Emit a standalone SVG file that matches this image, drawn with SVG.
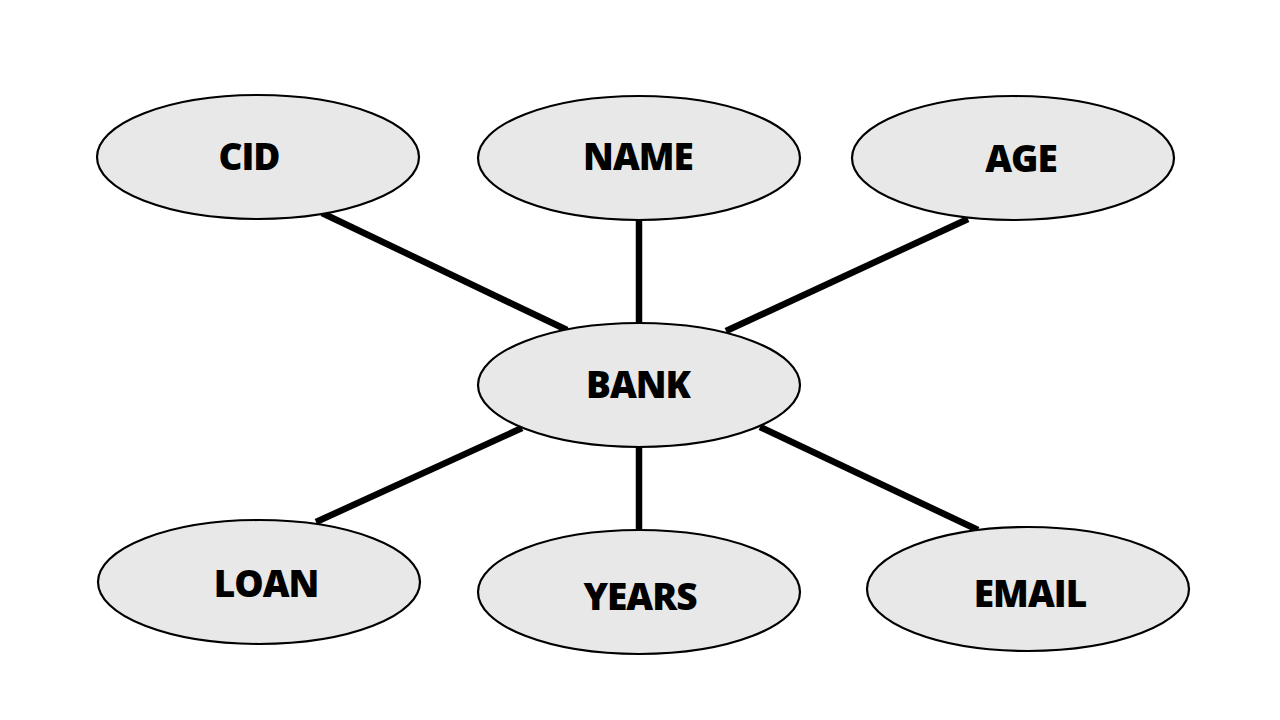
<svg xmlns="http://www.w3.org/2000/svg" width="1280" height="720" viewBox="0 0 1280 720">
<style>
.n ellipse{fill:#e8e8e8;stroke:#000;stroke-width:2.2}
.n text{font-family:"Open Sans","DejaVu Sans",sans-serif;font-weight:800;font-size:37px;fill:#000;text-anchor:middle;letter-spacing:-1px}
.c line{stroke:#000;stroke-width:6.5}
</style>
<rect width="1280" height="720" fill="#fff"/>
<g id="connectors" class="c">
<line x1="322" y1="213" x2="567" y2="330"/>
<line x1="639" y1="219" x2="639" y2="324"/>
<line x1="968" y1="219" x2="726" y2="331"/>
<line x1="522" y1="428" x2="316" y2="522"/>
<line x1="639" y1="446" x2="639" y2="530"/>
<line x1="760" y1="427" x2="978" y2="530"/>
</g>
<g id="cid" class="n"><ellipse cx="258" cy="157" rx="161" ry="62"/><text x="249" y="170">CID</text></g>
<g id="name" class="n"><ellipse cx="639" cy="158" rx="161" ry="62"/><text x="638" y="170">NAME</text></g>
<g id="age" class="n"><ellipse cx="1013" cy="158" rx="161" ry="62"/><text x="1021" y="172">AGE</text></g>
<g id="bank" class="n"><ellipse cx="639" cy="385" rx="161" ry="62"/><text x="638" y="398">BANK</text></g>
<g id="loan" class="n"><ellipse cx="259" cy="582" rx="161" ry="62"/><text x="266" y="597">LOAN</text></g>
<g id="years" class="n"><ellipse cx="639" cy="592" rx="161" ry="62"/><text x="640" y="610">YEARS</text></g>
<g id="email" class="n"><ellipse cx="1028" cy="589" rx="161" ry="62"/><text x="1030" y="607">EMAIL</text></g>
</svg>
